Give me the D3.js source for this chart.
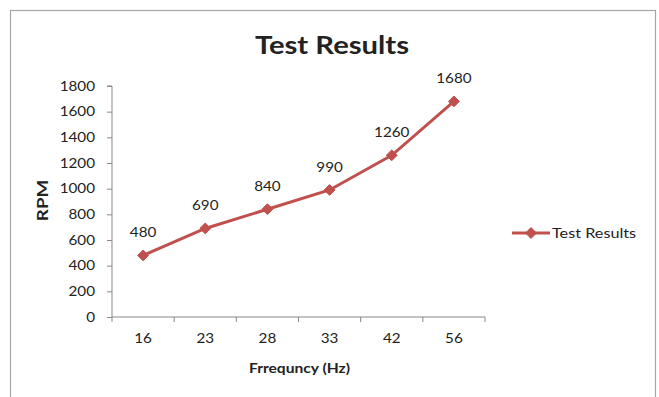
<!DOCTYPE html>
<html>
<head>
<meta charset="utf-8">
<script src="https://cdn.jsdelivr.net/npm/d3@7"></script>
<style>
  html, body { margin: 0; padding: 0; background: #fff; }
  svg { display: block; }
  text { font-family: Lato, "Open Sans", "DejaVu Sans", sans-serif; fill: #222; }
</style>
</head>
<body>
<svg id="chart" width="659" height="397"></svg>
<script>
// Frequency categories and measured speed
const frequencies = ["16", "23", "28", "33", "42", "56"];
const rpmValues = [480, 690, 840, 990, 1260, 1680];
const yTicks = [0, 200, 400, 600, 800, 1000, 1200, 1400, 1600, 1800];
const seriesName = "Test Results";
const chartTitle = "Test Results";
const xTitle = "Frrequncy (Hz)";
const yTitle = "RPM";

const red = "#C0504D";
const svg = d3.select("#chart");

// widen glyphs horizontally around each text's own anchor x
function widen(sel, sx) {
  sel.each(function () {
    const t = d3.select(this);
    const ax = +t.attr("x") || 0;
    t.attr("transform", `translate(${ax},0) scale(${sx},1) translate(${-ax},0)`);
  });
}

// chart frame
svg.append("rect")
  .attr("x", 10.5).attr("y", 10.5)
  .attr("width", 645).attr("height", 400)
  .attr("fill", "#fff").attr("stroke", "#a6a6a6").attr("stroke-width", 1.2);

const plot = { left: 112, right: 485, top: 86, bottom: 317 };

const x = d3.scaleBand().domain(frequencies).range([plot.left, plot.right]);
const y = d3.scaleLinear().domain([0, 1800]).range([plot.bottom, plot.top]);

// title
svg.append("text")
  .attr("x", 332).attr("y", 54)
  .attr("text-anchor", "middle")
  .style("font-size", "25px").style("font-weight", "bold")
  .text(chartTitle)
  .call(widen, 1.17);

// y axis
const yAxis = svg.append("g")
  .attr("transform", `translate(${plot.left},0)`)
  .call(d3.axisLeft(y).tickValues(yTicks).tickSize(5).tickPadding(12).tickFormat(d3.format("d")));
yAxis.select(".domain").attr("stroke", "#888").attr("d", `M-5,${plot.top}H0V${plot.bottom}`);
yAxis.selectAll(".tick line").attr("stroke", "#888");
yAxis.selectAll(".tick text").style("font-size", "12.5px").attr("fill", "#222").call(widen, 1.22);

// x axis: ticks sit on category boundaries
const xAxis = svg.append("g")
  .attr("transform", `translate(0,${plot.bottom})`)
  .call(d3.axisBottom(x).tickSize(0).tickPadding(17));
xAxis.select(".domain").attr("stroke", "#888").attr("d", `M${plot.left},0H${plot.right}`);
xAxis.selectAll(".tick text").style("font-size", "12.5px").attr("fill", "#222").call(widen, 1.22);
const bounds = frequencies.map(f => x(f)).concat([x(frequencies[frequencies.length - 1]) + x.bandwidth()]);
xAxis.selectAll(".bound").data(bounds).join("line")
  .attr("x1", d => d).attr("x2", d => d)
  .attr("y1", 0).attr("y2", 5)
  .attr("stroke", "#888");

// axis titles
svg.append("text")
  .attr("x", (plot.left + plot.right) / 2 + 1).attr("y", 373)
  .attr("text-anchor", "middle")
  .style("font-size", "12.5px").style("font-weight", "bold")
  .text(xTitle)
  .call(widen, 1.25);

svg.append("g")
  .attr("transform", `translate(48,${(plot.top + plot.bottom) / 2 - 1}) rotate(-90)`)
  .append("text")
  .attr("x", 0).attr("y", 0)
  .attr("text-anchor", "middle")
  .style("font-size", "15px").style("font-weight", "bold")
  .text(yTitle)
  .call(widen, 1.25);

const cx = (f) => x(f) + x.bandwidth() / 2;
const pts = frequencies.map((f, i) => ({ f, v: rpmValues[i] }));

// series line
svg.append("path")
  .datum(pts)
  .attr("fill", "none")
  .attr("stroke", red)
  .attr("stroke-width", 3)
  .attr("d", d3.line().x(d => cx(d.f)).y(d => y(d.v)));

const diamond = d3.symbol().type(d3.symbolDiamond2).size(75);
svg.selectAll(".marker").data(pts).join("path")
  .attr("class", "marker")
  .attr("transform", d => `translate(${cx(d.f)},${y(d.v)})`)
  .attr("d", diamond)
  .attr("fill", red).attr("stroke", red).attr("stroke-width", 1);

// data labels
svg.selectAll(".dlabel").data(pts).join("text")
  .attr("class", "dlabel")
  .attr("x", d => cx(d.f))
  .attr("y", d => y(d.v) - 18)
  .attr("text-anchor", "middle")
  .style("font-size", "12.5px")
  .text(d => d.v)
  .call(widen, 1.22);

// legend
const lg = svg.append("g").attr("transform", "translate(512,233)");
lg.append("line").attr("x1", 0).attr("x2", 38).attr("y1", 0).attr("y2", 0)
  .attr("stroke", red).attr("stroke-width", 3);
lg.append("path").attr("transform", "translate(19,0)").attr("d", diamond)
  .attr("fill", red).attr("stroke", red);
lg.append("text").attr("x", 40).attr("y", 5)
  .style("font-size", "12.5px").text(seriesName)
  .call(widen, 1.3);
</script>
</body>
</html>
